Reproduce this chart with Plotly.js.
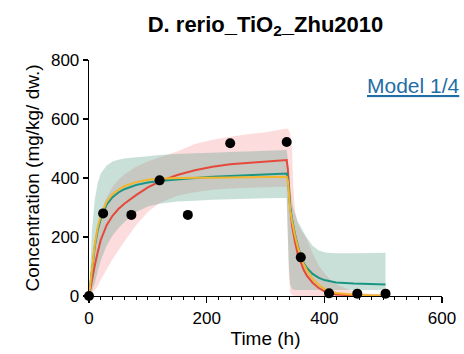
<!DOCTYPE html>
<html>
<head>
<meta charset="utf-8">
<script src="https://cdn.plot.ly/plotly-3.0.1.min.js"></script>
<style>html,body{margin:0;padding:0;background:#fff;}#chart{width:464px;height:354px;}</style>
</head>
<body>
<div id="chart"></div>
<script>
// Observed data
const obsTime = [0, 24, 72, 120, 168, 240, 336, 360, 408, 456, 504];
const obsConc = [0, 280, 275, 392, 275, 518, 522, 131, 9, 8, 8];

// Model time grid and curves
const modelTime = [0,5,10,15,20,30,40,50,60,80,100,120,150,180,210,240,270,300,336,338,340,342,345,347,350,355,360,365,370,380,390,400,410,420,450,480,504];
const redFit    = [0,55,105,150,190,240,272,295,313,342,368,388,410,426,438,447,452,456,461,430,350,300,240,215,185,140,112,88,70,45,28,16,9,5,2,1,1];
const tealFit   = [0,95,170,225,262,310,335,351,362,376,385,390,396,400,404,407,410,412,415,400,340,300,262,240,210,170,135,112,96,75,62,54,49,46,42,40,39];
const yellowFit = [0,100,178,235,272,320,345,360,372,386,394,398,400,401,401,402,402,403,404,390,330,290,255,232,205,165,132,108,88,58,38,24,15,10,4,2,2];
const tealUpper = [0,220,330,385,415,442,456,462,466,470,474,478,481,484,486,488,490,492,495,460,410,370,320,300,280,252,235,215,198,170,155,148,146,145,145,146,147];
const tealLower = [0,15,45,85,120,170,205,230,250,285,303,313,320,323,326,328,330,331,332,200,90,40,25,22,20,20,20,20,20,20,20,20,20,20,20,20,20];
const redUpper  = [0,110,190,245,285,335,370,395,412,438,456,470,490,515,530,540,548,555,568,566,560,550,500,380,290,245,225,210,195,145,105,78,56,40,14,6,3];
const redLower  = [0,10,20,35,55,90,125,155,185,240,285,315,340,352,360,364,367,369,370,200,60,10,3,2,1,0,0,0,0,0,0,0,0,0,0,0,0];

const xTicks = [0, 200, 400, 600];
const yTicks = [0, 200, 400, 600, 800];

const FONT = 'Arial, "Liberation Sans", Helvetica, sans-serif';

function band(upper, lower, color) {
  return {
    x: modelTime.concat(modelTime.slice().reverse()),
    y: upper.concat(lower.slice().reverse()),
    type: 'scatter', mode: 'none', fill: 'toself', fillcolor: color,
    hoverinfo: 'skip', showlegend: false
  };
}
function line(y, color) {
  return {x: modelTime, y: y, type: 'scatter', mode: 'lines',
    line: {color: color, width: 2}, showlegend: false, cliponaxis: false};
}

const data = [
  band(redUpper, redLower, 'rgba(245,130,130,0.28)'),
  band(tealUpper, tealLower, 'rgba(90,160,140,0.33)'),
  line(redFit, '#e5493a'),
  line(tealFit, '#1b9683'),
  line(yellowFit, '#f2b52c'),
  {x: obsTime, y: obsConc, type: 'scatter', mode: 'markers',
   marker: {color: '#000', size: 10}, cliponaxis: false, showlegend: false}
];

const layout = {
  width: 464, height: 354,
  margin: {l: 89, r: 22, t: 60, b: 58},
  paper_bgcolor: '#fff', plot_bgcolor: '#fff',
  font: {family: FONT, color: '#000', size: 17},
  title: {text: '<b>D. rerio_TiO<sub>2</sub>_Zhu2010</b>', font: {family: FONT, size: 22, color: '#000'},
          x: 0.5, xref: 'paper', xanchor: 'center', y: 1 - 24/354, yref: 'container', yanchor: 'middle'},
  xaxis: {range: [0, 600], tickvals: xTicks, showgrid: false, zeroline: false,
          showline: true, linecolor: '#000', linewidth: 1.3,
          ticks: 'outside', ticklen: 6, tickwidth: 1.3, tickcolor: '#000',
          minor: {dtick: 20, ticks: 'outside', ticklen: 3, tickwidth: 1, tickcolor: '#000'},
          tickfont: {size: 17, family: FONT},
          title: {text: 'Time (h)', font: {size: 19, family: FONT}, standoff: 5}},
  yaxis: {range: [0, 800], tickvals: yTicks, showgrid: false, zeroline: false,
          showline: true, linecolor: '#000', linewidth: 1.3,
          ticks: 'outside', ticklen: 5, tickwidth: 1.3, tickcolor: '#000',
          tickfont: {size: 17, family: FONT},
          title: {text: 'Concentration (mg/kg/ dw.)', font: {size: 19, family: FONT}, standoff: 6}},
  annotations: [{text: '<u>Model 1/4</u>', xref: 'paper', yref: 'paper', x: 0.92, y: 0.89,
                 xanchor: 'center', yanchor: 'middle', showarrow: false,
                 font: {size: 21, family: FONT, color: '#1f6ea6'}}]
};

Plotly.newPlot('chart', data, layout, {staticPlot: true, displayModeBar: false});
</script>
</body>
</html>
